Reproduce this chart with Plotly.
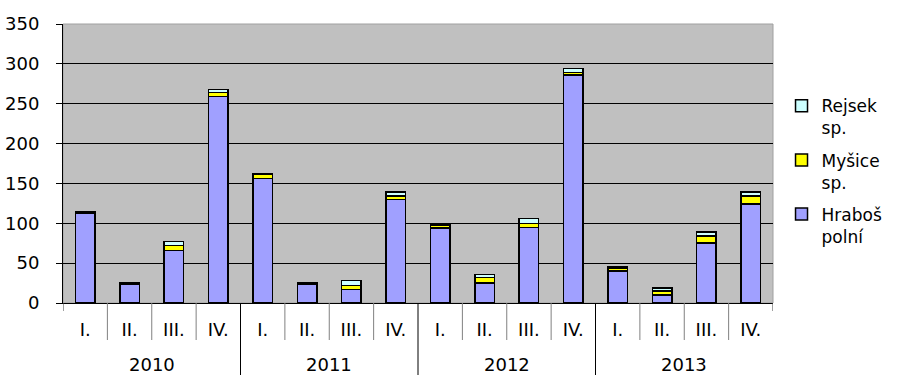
import plotly.graph_objects as go

year_labels = ["2010", "2011", "2012", "2013"]
quarter_labels = ["I.", "II.", "III.", "IV."]

hrabos = [112, 23, 66, 259, 156, 23, 17, 130, 94, 25, 95, 286, 40, 10, 75, 124]
mysice = [2, 2, 6, 5, 5, 2, 5, 4, 4, 7, 5, 3, 4, 5, 9, 10]
rejsek = [0, 0, 5, 4, 1, 0, 6, 5, 2, 4, 6, 5, 1, 4, 5, 5]

series = [
    ("Hraboš<br>polní", hrabos, "#A0A0FF", 3),
    ("Myšice<br>sp.", mysice, "#FFFF00", 2),
    ("Rejsek<br>sp.", rejsek, "#CCFFFF", 1),
]

n_q = len(quarter_labels)
n = len(year_labels) * n_q
xpos = list(range(n))
ticktext = [quarter_labels[i % n_q] for i in xpos]

W, H = 897, 389
ML, MR, MT, MB = 63, 124, 24, 86
PLOT_H = H - MT - MB

fig = go.Figure()
for i, (name, vals, col, rank) in enumerate(series):
    fig.add_trace(go.Bar(
        x=xpos, y=vals, name=name, legendgroup=f"g{i}", legendrank=rank,
        marker=dict(color=col, line=dict(color="black", width=1.5)),
    ))

FONT = "DejaVu Sans, Verdana, sans-serif"
fig.update_layout(
    barmode="stack",
    bargap=0.56,
    width=W, height=H,
    margin=dict(l=ML, r=MR, t=MT, b=MB, autoexpand=False),
    paper_bgcolor="white",
    plot_bgcolor="#C0C0C0",
    font=dict(family=FONT, size=18, color="black"),
    legend=dict(
        traceorder="grouped", x=1.012, y=0.77, xanchor="left", yanchor="top",
        valign="top", font=dict(size=17), itemwidth=30, tracegroupgap=7,
        bgcolor="rgba(0,0,0,0)",
    ),
    showlegend=True,
)
fig.update_yaxes(
    range=[0, 350], dtick=50, showgrid=True, gridcolor="black", gridwidth=1,
    showline=True, linecolor="black", linewidth=1, ticks="outside", ticklen=6,
    tickcolor="black", zeroline=False, automargin=False, ticklabelstandoff=13,
)
fig.update_xaxes(
    range=[-0.5, n - 0.5], tickmode="array", tickvals=xpos, ticktext=ticktext,
    showline=True, linecolor="black", linewidth=1, ticks="", showgrid=False,
    zeroline=False, automargin=False, ticklabelstandoff=10,
)

# plot border (top / right)
fig.add_shape(type="rect", xref="paper", yref="paper", x0=0, x1=1, y0=0, y1=1,
              line=dict(color="#A0A0A0", width=1), layer="below")

# category dividers below the axis
for b in range(n + 1):
    if b == 0 or b == n:
        length, col = 8, "#404040"
    elif b % n_q == 0:
        length, col = 72, "black"
    else:
        length, col = 37, "#808080"
    fig.add_shape(type="line", xref="x", yref="paper", x0=b - 0.5, x1=b - 0.5,
                  y0=0, y1=-length / PLOT_H, line=dict(color=col, width=1))

# year group labels
for k, yl in enumerate(year_labels):
    fig.add_annotation(x=k * n_q + (n_q - 1) / 2, xref="x", y=-61 / PLOT_H, yref="paper",
                       text=yl, showarrow=False, yanchor="middle",
                       font=dict(family=FONT, size=18, color="black"))

fig.write_html(
    "out.html",
    config={"displayModeBar": False},
    post_script="document.body.style.margin='0';document.body.style.overflow='hidden';",
)
